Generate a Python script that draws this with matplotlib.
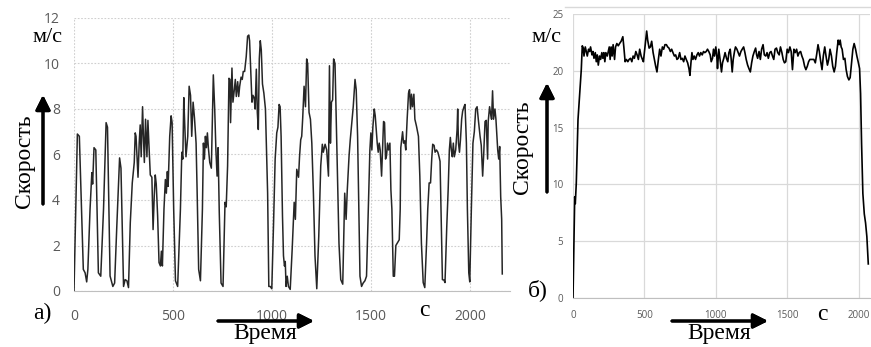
import matplotlib
matplotlib.use("Agg")
import matplotlib.pyplot as plt
from matplotlib.lines import Line2D

# panel a) - urban cycle, speed m/s vs time s
t_a = [0, 17, 27, 47, 56, 64, 70, 81, 90, 94, 101, 110, 123, 135, 149, 162, 169, 182, 196, 205,
       216, 230, 237, 250, 258, 267, 275, 284, 294, 304, 309, 313, 318, 323, 329, 334, 339, 346,
       350, 355, 361, 368, 373, 378, 385, 393, 399, 405, 410, 415, 422, 429, 436, 441, 446, 454,
       461, 466, 471, 475, 483, 490, 495, 503, 512, 523, 537, 544, 549, 554, 559, 565, 574, 581,
       588, 594, 601, 608, 616, 621, 629, 638, 648, 653, 658, 663, 668, 673, 678, 685, 693, 698,
       703, 710, 716, 722, 727, 733, 742, 752, 762, 768, 775, 782, 787, 790, 797, 802, 809, 814,
       819, 826, 831, 836, 843, 849, 854, 861, 869, 876, 882, 886, 893, 898, 903, 909, 914, 920,
       925, 930, 935, 940, 945, 951, 958, 966, 977, 983, 990, 998, 1007, 1015, 1023, 1029, 1035,
       1040, 1045, 1052, 1057, 1062, 1066, 1070, 1076, 1082, 1091, 1101, 1111, 1117, 1124, 1133,
       1138, 1144, 1149, 1154, 1161, 1168, 1174, 1179, 1186, 1193, 1200, 1208, 1216, 1225, 1235,
       1245, 1253, 1258, 1267, 1275, 1284, 1289, 1294, 1299, 1305, 1310, 1317, 1322, 1329, 1337,
       1346, 1356, 1366, 1373, 1379, 1388, 1394, 1403, 1409, 1418, 1424, 1431, 1436, 1443, 1451,
       1459, 1468, 1476, 1485, 1493, 1498, 1503, 1508, 1515, 1520, 1530, 1535, 1540, 1545, 1552,
       1557, 1562, 1567, 1572, 1577, 1582, 1587, 1594, 1599, 1604, 1611, 1617, 1624, 1631, 1641,
       1646, 1649, 1658, 1663, 1669, 1674, 1681, 1688, 1693, 1698, 1703, 1708, 1715, 1720, 1728,
       1738, 1745, 1753, 1762, 1770, 1779, 1785, 1792, 1799, 1805, 1810, 1817, 1822, 1829, 1836,
       1842, 1847, 1852, 1859, 1867, 1872, 1881, 1888, 1894, 1899, 1904, 1909, 1914, 1919, 1926,
       1933, 1936, 1940, 1945, 1950, 1956, 1961, 1968, 1973, 1980, 1985, 1992, 1997, 2005, 2013,
       2020, 2027, 2034, 2040, 2049, 2055, 2062, 2067, 2074, 2080, 2087, 2090, 2097, 2102, 2107,
       2112, 2117, 2124, 2129, 2138, 2143, 2148, 2153, 2158, 2161]
v_a = [0, 6.9, 6.8, 0.95, 0.8, 0.4, 0.95, 3.6, 5.2, 4.7, 6.3, 6.2, 0.8, 0.65, 3.6, 7.4, 7.2, 0.66, 0.2, 0.35,
       2.85, 5.85, 5.4, 0.2, 0.5, 0.45, 0.15, 3.0, 4.75, 5.65, 6.95, 6.8, 5.9, 5.0, 6.5, 7.3, 5.9, 8.1,
       6.9, 5.65, 7.55, 5.9, 7.5, 6.45, 5.1, 5.0, 2.7, 4.2, 5.1, 4.7, 3.3, 1.25, 1.1, 1.75, 1.1, 3.6,
       4.9, 4.3, 5.25, 4.6, 6.8, 7.7, 7.4, 3.6, 0.45, 0.2, 3.6, 6.1, 5.8, 8.5, 7.25, 5.9, 6.8, 9.0,
       8.6, 6.8, 8.3, 7.6, 6.5, 4.5, 0.95, 0.45, 3.6, 6.5, 5.8, 6.8, 6.3, 6.95, 6.3, 5.65, 5.4, 7.55,
       9.5, 8.0, 6.2, 5.05, 6.3, 3.45, 0.35, 0.2, 3.9, 3.7, 5.5, 9.35, 9.3, 7.4, 9.8, 8.3, 8.85, 9.3,
       8.55, 9.2, 8.55, 9.0, 9.4, 9.3, 9.65, 9.65, 10.3, 11.2, 11.25, 11.0, 9.45, 8.3, 8.6, 8.5, 8.0, 9.75,
       7.85, 7.1, 10.2, 11.0, 10.6, 9.1, 8.7, 8.0, 4.3, 0.2, 0.2, 0.1, 3.0, 5.8, 6.95, 7.2, 8.2,
       8.1, 6.8, 3.3, 1.55, 1.1, 1.3, 0.2, 0.65, 0.2, 0.07, 1.85, 3.9, 3.15, 5.35, 5.0,
       5.9, 6.65, 6.8, 7.6, 9.0, 8.1, 10.2, 10.0, 7.85, 7.55, 6.5, 4.3, 1.55, 0.1, 2.4,
       5.5, 6.45, 6.1, 6.45, 6.2, 5.05, 9.9, 6.5, 8.3, 8.4, 10.2, 10.0, 8.0, 5.05, 2.1,
       0.5, 0.3, 4.3, 3.15, 4.45, 5.95, 6.65, 7.55, 8.1, 9.3, 8.85, 6.8, 4.3, 0.65, 0.2,
       0.35, 0.45, 0.65, 3.6, 6.2, 6.95, 6.2, 7.2, 8.0, 7.7, 6.5, 6.1, 6.5, 6.2, 5.05,
       6.2, 7.45, 7.4, 5.8, 5.95, 6.5, 6.2, 6.5, 4.45, 3.6, 0.65, 0.65, 2.0, 2.1, 2.25,
       3.6, 6.3, 7.0, 6.5, 6.6, 6.2, 7.55, 8.7, 8.85, 8.0, 8.65, 8.1, 8.65, 7.55, 7.25,
       6.8, 5.05, 2.1, 0.37, 0.15, 2.1, 3.6, 4.75, 4.75, 5.8, 6.45, 6.4, 6.1, 6.2, 6.1,
       5.9, 5.7, 3.6, 0.5, 0.48, 0.37, 2.85, 4.45, 6.2, 6.75, 6.2, 5.9, 6.5, 5.9, 6.2,
       7.1, 8.0, 6.5, 6.1, 6.65, 7.55, 7.9, 8.1, 8.2, 6.5, 3.6, 0.8, 0.4, 3.6, 6.5,
       7.0, 8.0, 8.1, 7.55, 6.8, 6.4, 5.05, 5.95, 7.45, 7.5, 5.8, 7.45, 8.1, 7.8, 7.55,
       8.8, 7.55, 8.0, 7.55, 6.2, 5.8, 6.35, 4.15, 3.15, 0.75]

# panel b) - highway cycle
t_b = [0, 12, 16, 23, 35, 47, 58, 65, 72, 77, 86, 93, 100, 109, 116, 123, 133, 140, 147, 156,
       163, 170, 177, 186, 193, 202, 209, 216, 223, 230, 240, 247, 254, 260, 267, 274, 281, 291,
       298, 307, 317, 326, 337, 349, 356, 365, 374, 384, 393, 403, 412, 421, 430, 440, 449, 458,
       467, 477, 486, 493, 500, 509, 516, 523, 533, 542, 551, 561, 570, 579, 588, 598, 607, 616,
       626, 635, 644, 654, 663, 672, 682, 691, 700, 710, 719, 728, 737, 747, 756, 765, 775, 784,
       793, 803, 812, 819, 826, 833, 840, 849, 858, 868, 877, 886, 895, 905, 914, 923, 933, 942,
       951, 961, 968, 977, 984, 991, 1000, 1007, 1012, 1021, 1030, 1040, 1047, 1056, 1065, 1075,
       1084, 1092, 1101, 1108, 1115, 1122, 1131, 1138, 1148, 1157, 1166, 1176, 1185, 1195, 1204,
       1213, 1223, 1232, 1242, 1251, 1260, 1270, 1279, 1286, 1293, 1303, 1312, 1321, 1331, 1340,
       1350, 1359, 1368, 1378, 1387, 1397, 1406, 1415, 1425, 1434, 1444, 1453, 1463, 1472, 1481,
       1490, 1500, 1509, 1519, 1528, 1537, 1547, 1556, 1566, 1575, 1584, 1594, 1603, 1612, 1622,
       1631, 1641, 1650, 1659, 1669, 1678, 1687, 1697, 1706, 1716, 1725, 1735, 1744, 1753, 1763,
       1772, 1782, 1791, 1800, 1810, 1819, 1829, 1838, 1847, 1857, 1864, 1871, 1878, 1885, 1894,
       1904, 1913, 1922, 1932, 1941, 1951, 1960, 1969, 1979, 1988, 1997, 2007, 2014, 2021, 2030,
       2040, 2049, 2058, 2068]
v_b = [0, 8.9, 8.3, 10.1, 15.7, 18.0, 20.1, 22.2, 22.0, 21.3, 22.1, 21.7, 21.3, 21.9, 21.7, 22.1, 21.4, 21.7, 21.1, 21.6,
       20.8, 21.4, 20.5, 21.3, 21.0, 21.6, 21.1, 21.6, 20.8, 21.6, 21.3, 21.7, 22.1, 21.0, 22.1, 21.3, 22.3, 21.0,
       22.1, 22.4, 22.2, 22.4, 22.6, 23.0, 22.1, 20.8, 21.0, 20.8, 21.0, 21.1, 20.8, 21.3, 21.1, 21.7, 21.4, 21.0,
       21.9, 21.3, 21.0, 20.8, 21.6, 22.6, 23.5, 22.7, 22.0, 22.1, 22.6, 21.6, 21.0, 20.4, 19.9, 21.0, 21.9, 21.3,
       22.1, 21.9, 22.3, 22.3, 22.1, 22.0, 21.7, 21.9, 21.6, 21.3, 21.4, 21.0, 21.1, 21.6, 21.0, 21.1, 20.8, 21.3,
       21.0, 20.7, 20.2, 19.6, 20.7, 21.6, 21.0, 21.3, 21.0, 21.4, 21.6, 21.3, 21.6, 21.4, 21.7, 21.6, 21.7, 21.9,
       21.7, 21.4, 20.8, 21.1, 21.9, 21.3, 22.1, 21.3, 20.2, 21.9, 21.0, 19.9, 20.7, 21.1, 21.6, 21.1,
       20.8, 21.6, 21.9, 21.0, 19.9, 21.0, 21.7, 22.1, 21.9, 21.6, 21.3, 21.7, 21.9, 22.1, 21.6,
       21.0, 20.5, 20.2, 19.9, 20.7, 21.3, 21.7, 22.0, 21.4, 21.1, 21.7, 21.0, 21.9, 22.3, 21.4,
       21.3, 21.6, 21.1, 21.6, 21.7, 21.3, 21.0, 21.9, 22.0, 21.6, 21.4, 22.1, 21.6, 21.0, 20.7,
       20.8, 21.9, 21.6, 22.1, 21.7, 20.1, 21.9, 21.6, 21.9, 21.3, 21.6, 21.7, 21.3, 21.0, 20.4,
       20.1, 20.4, 20.8, 21.0, 21.0, 21.0, 21.0, 20.7, 21.4, 22.3, 21.7, 20.8, 20.1, 21.3, 22.1,
       21.3, 20.5, 21.0, 21.9, 21.3, 20.4, 19.9, 20.4, 21.6, 22.7, 22.3, 22.7, 22.1, 21.9, 21.0,
       21.1, 20.1, 19.5, 19.2, 19.4, 20.7, 21.9, 22.4, 21.9, 21.3, 20.8, 20.2, 18.0, 13.6, 9.2,
       7.4, 6.6, 5.4, 3.0]

ticks_a_x = [0, 500, 1000, 1500, 2000]
ticks_a_y = [0, 2, 4, 6, 8, 10, 12]
ticks_b_x = [0, 500, 1000, 1500, 2000]
ticks_b_y = [0, 5, 10, 15, 20, 25]

W, H = 871, 347
fig = plt.figure(figsize=(W / 100, H / 100), dpi=100)

tick_col = '#595959'
serif = 'Liberation Serif'

# ---- panel a
ax1 = fig.add_axes([74 / W, 1 - 291 / H, (510 - 74) / W, (291 - 18) / H])
ax1.plot(t_a, v_a, color='#262626', lw=1.1)
ax1.set_xlim(0, 2200)
ax1.set_ylim(0, 12)
ax1.set_xticks(ticks_a_x)
ax1.set_yticks(ticks_a_y)
ax1.grid(True, color='#cfcfcf', ls=(0, (1.5, 1.5)), lw=0.8)
ax1.set_axisbelow(True)
for s in ['left', 'top', 'right']:
    ax1.spines[s].set_visible(False)
ax1.spines['bottom'].set_color('#bfbfbf')
ax1.tick_params(length=0, labelsize=10, labelcolor=tick_col, pad=10)
ax1.tick_params(axis='x', pad=13)
for lab in ax1.get_xticklabels() + ax1.get_yticklabels():
    lab.set_family('Open Sans')

# ---- panel b
ax2 = fig.add_axes([573 / W, 1 - 298 / H, (870 - 573) / W, (298 - 14) / H])
ax2.plot(t_b, v_b, color='black', lw=1.2)
ax2.set_xlim(0, 2080)
ax2.set_ylim(0, 25)
ax2.set_xticks(ticks_b_x)
ax2.set_yticks(ticks_b_y)
ax2.grid(True, color='#d9d9d9', lw=0.9)
ax2.set_axisbelow(True)
for s in ['left', 'top', 'right']:
    ax2.spines[s].set_visible(False)
ax2.spines['bottom'].set_color('#bfbfbf')
ax2.tick_params(length=0, labelsize=7, labelcolor=tick_col, pad=7)
ax2.tick_params(axis='x', pad=9)
for lab in ax2.get_xticklabels() + ax2.get_yticklabels():
    lab.set_family('Open Sans')

# chart frame line on the right screenshot
fig.add_artist(Line2D([565 / W, 1], [1 - 7 / H, 1 - 7 / H], color='#d9d9d9', lw=1))


def ftext(x, y, s, **kw):
    fig.text(x / W, 1 - y / H, s, family=serif, ha='center', va='center', **kw)


def farrow(x0, y0, x1, y1):
    fig.add_artist(plt.annotate('', xy=(x1 / W, 1 - y1 / H), xytext=(x0 / W, 1 - y0 / H),
                                xycoords='figure fraction', textcoords='figure fraction',
                                arrowprops=dict(arrowstyle='-|>', lw=2.2, color='black',
                                                mutation_scale=22, shrinkA=0, shrinkB=0)))


# labels panel a
ftext(47, 37, 'м/с', fontsize=16)
ftext(25, 161, 'Скорость', fontsize=17, rotation=90)
ftext(42, 313, 'а)', fontsize=17)
ftext(424, 311, 'с', fontsize=17)
ftext(265, 334, 'Время', fontsize=17)
farrow(43, 204, 43, 95)
farrow(218, 321, 314, 321)

# labels panel b
ftext(546, 37, 'м/с', fontsize=16)
ftext(522, 147, 'Скорость', fontsize=17, rotation=90)
ftext(538, 290, 'б)', fontsize=17)
ftext(822, 315, 'с', fontsize=17)
ftext(719, 334, 'Время', fontsize=17)
farrow(547, 192, 547, 83)
farrow(672, 321, 768, 321)

fig.savefig('out.png', dpi=100)
